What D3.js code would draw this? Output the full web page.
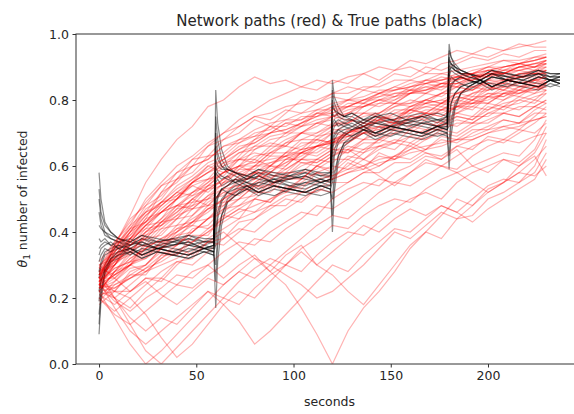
<!DOCTYPE html>
<html>
<head>
<meta charset="utf-8">
<script src="https://cdn.jsdelivr.net/npm/d3@7"></script>
<style>
  body { margin: 0; background: #fff; }
  svg text { font-family: "DejaVu Sans", sans-serif; fill: #262626; }
</style>
</head>
<body>
<svg id="chart"></svg>
<script>
const redTimes = [0, 8, 16, 24, 32, 40, 48, 56, 64, 72, 80, 88, 96, 104, 112, 120, 128, 136, 144, 152, 160, 168, 176, 184, 192, 200, 208, 216, 224, 230];
const redPaths = [
  [.27,.36,.45,.55,.62,.68,.72,.78,.80,.84,.87,.85,.86,.84,.86,.85,.87,.88,.86,.89,.90,.88,.91,.92,.94,.93,.95,.96,.97,.98],
  [.24,.30,.38,.44,.52,.58,.60,.66,.70,.74,.77,.80,.82,.84,.83,.86,.85,.88,.90,.89,.92,.91,.93,.95,.94,.96,.95,.97,.96,.96],
  [.30,.34,.40,.47,.50,.56,.62,.63,.68,.70,.74,.72,.76,.80,.79,.82,.84,.83,.85,.88,.87,.90,.89,.91,.93,.92,.94,.93,.95,.95],
  [.22,.28,.33,.40,.44,.50,.55,.60,.58,.63,.68,.70,.73,.72,.76,.78,.80,.79,.82,.84,.83,.86,.88,.87,.89,.90,.92,.91,.93,.93],
  [.26,.31,.35,.38,.43,.47,.52,.55,.60,.62,.61,.65,.68,.70,.72,.75,.74,.78,.80,.79,.82,.84,.83,.86,.88,.87,.90,.91,.90,.92],
  [.20,.25,.30,.37,.42,.45,.50,.54,.58,.60,.65,.67,.66,.70,.73,.72,.76,.79,.78,.80,.83,.82,.85,.84,.87,.89,.88,.90,.91,.91],
  [.28,.35,.40,.43,.48,.52,.51,.55,.58,.62,.64,.63,.67,.70,.69,.72,.74,.73,.76,.79,.78,.80,.82,.85,.84,.86,.88,.87,.89,.90],
  [.24,.27,.32,.35,.40,.44,.48,.50,.53,.57,.60,.64,.66,.65,.69,.70,.73,.76,.75,.78,.80,.79,.82,.84,.83,.86,.85,.88,.89,.89],
  [.18,.22,.28,.30,.35,.40,.43,.47,.50,.54,.58,.56,.60,.64,.66,.70,.69,.72,.75,.74,.78,.80,.79,.82,.84,.83,.86,.87,.88,.88],
  [.30,.32,.36,.40,.42,.46,.50,.48,.52,.55,.58,.60,.59,.62,.65,.68,.70,.72,.71,.74,.77,.76,.79,.81,.80,.83,.85,.84,.86,.87],
  [.25,.29,.31,.35,.38,.40,.45,.49,.52,.51,.55,.58,.62,.64,.63,.66,.70,.72,.75,.74,.77,.79,.80,.79,.82,.84,.83,.85,.86,.86],
  [.22,.20,.24,.28,.32,.36,.40,.44,.47,.50,.54,.53,.57,.60,.62,.65,.64,.68,.70,.73,.72,.75,.78,.77,.80,.82,.81,.84,.85,.86],
  [.27,.30,.34,.33,.37,.40,.43,.46,.50,.53,.52,.56,.59,.62,.61,.64,.67,.70,.69,.72,.74,.76,.75,.78,.80,.79,.82,.83,.85,.85],
  [.23,.26,.30,.34,.36,.39,.42,.41,.45,.48,.50,.54,.57,.56,.60,.63,.66,.65,.68,.70,.72,.71,.74,.76,.78,.77,.80,.82,.83,.84],
  [.19,.24,.27,.30,.34,.33,.37,.40,.44,.47,.46,.50,.53,.56,.58,.57,.60,.64,.66,.68,.67,.70,.73,.75,.74,.77,.79,.80,.82,.83],
  [.29,.27,.30,.32,.35,.38,.37,.41,.44,.47,.50,.49,.53,.55,.58,.60,.59,.62,.65,.67,.66,.69,.72,.74,.73,.76,.78,.79,.81,.82],
  [.21,.18,.22,.26,.25,.30,.34,.37,.36,.40,.44,.47,.50,.49,.53,.56,.58,.60,.63,.62,.65,.68,.70,.69,.72,.74,.76,.75,.78,.80],
  [.26,.22,.20,.24,.28,.31,.30,.34,.38,.41,.40,.44,.47,.50,.53,.52,.55,.58,.60,.63,.62,.65,.68,.67,.70,.72,.74,.73,.77,.79],
  [.24,.19,.16,.20,.23,.27,.26,.30,.34,.37,.36,.40,.43,.46,.45,.50,.53,.55,.54,.58,.60,.63,.62,.66,.68,.70,.72,.71,.75,.78],
  [.20,.15,.12,.16,.20,.24,.23,.27,.30,.34,.38,.37,.41,.44,.48,.47,.50,.53,.56,.55,.58,.61,.60,.63,.66,.68,.67,.70,.73,.76],
  [.25,.17,.10,.06,.10,.14,.18,.22,.20,.25,.29,.32,.30,.35,.38,.42,.41,.45,.48,.50,.49,.53,.56,.58,.60,.62,.64,.63,.68,.74],
  [.28,.20,.12,.04,.00,.05,.10,.15,.20,.18,.23,.27,.30,.28,.33,.37,.40,.39,.43,.47,.50,.52,.50,.55,.58,.60,.62,.61,.65,.72],
  [.22,.14,.06,.00,.04,.09,.14,.19,.24,.28,.26,.30,.34,.38,.42,.45,.44,.48,.52,.55,.54,.57,.60,.59,.63,.66,.68,.67,.69,.70],
  [.26,.20,.14,.10,.14,.12,.17,.22,.18,.13,.06,.10,.15,.20,.25,.30,.28,.33,.37,.41,.40,.44,.48,.46,.50,.54,.56,.55,.60,.68],
  [.24,.20,.17,.22,.26,.24,.28,.30,.26,.30,.33,.28,.24,.17,.09,.00,.10,.17,.22,.28,.35,.40,.38,.44,.48,.53,.55,.58,.62,.66],
  [.30,.26,.22,.25,.21,.18,.22,.26,.24,.28,.32,.30,.27,.24,.20,.22,.26,.30,.35,.40,.38,.42,.46,.44,.45,.50,.52,.55,.58,.64],
  [.23,.27,.30,.28,.32,.35,.33,.37,.40,.36,.32,.28,.33,.36,.30,.34,.38,.42,.40,.44,.47,.45,.48,.46,.43,.47,.50,.53,.56,.62],
  [.27,.33,.38,.42,.46,.50,.54,.52,.56,.60,.58,.55,.52,.56,.60,.58,.62,.60,.57,.54,.58,.62,.60,.58,.55,.52,.55,.58,.57,.60],
  [.25,.30,.36,.40,.44,.48,.47,.51,.55,.58,.56,.60,.63,.61,.60,.63,.65,.62,.60,.63,.66,.64,.62,.65,.60,.58,.62,.60,.63,.57],
  [.28,.32,.37,.42,.46,.50,.55,.58,.62,.65,.68,.72,.70,.73,.76,.75,.78,.80,.82,.81,.84,.86,.85,.87,.86,.88,.87,.89,.88,.88],
  [.22,.28,.34,.39,.43,.46,.50,.53,.56,.59,.62,.60,.64,.66,.68,.67,.70,.72,.74,.73,.76,.78,.77,.80,.79,.81,.83,.82,.84,.85],
  [.31,.37,.43,.49,.54,.58,.62,.66,.68,.72,.75,.74,.77,.76,.79,.81,.80,.83,.82,.84,.86,.85,.87,.86,.88,.90,.89,.91,.90,.92],
  [.20,.16,.20,.15,.08,.02,.06,.12,.18,.22,.20,.25,.30,.34,.30,.27,.22,.18,.24,.30,.36,.40,.45,.50,.48,.52,.55,.60,.64,.70],
  [.26,.33,.38,.41,.46,.48,.52,.54,.58,.60,.63,.64,.67,.68,.70,.72,.73,.75,.76,.78,.79,.80,.82,.82,.84,.85,.86,.88,.88,.89],
  [.24,.27,.30,.33,.35,.39,.40,.44,.46,.50,.51,.55,.56,.58,.59,.62,.62,.65,.66,.67,.69,.71,.71,.73,.73,.76,.76,.78,.78,.80],
  [.27,.31,.33,.38,.39,.44,.45,.50,.51,.56,.56,.60,.60,.64,.64,.67,.67,.70,.70,.73,.73,.76,.75,.78,.77,.81,.80,.83,.82,.85],
  [.25,.34,.40,.45,.49,.53,.56,.60,.62,.66,.67,.70,.71,.73,.75,.76,.78,.78,.80,.81,.83,.83,.85,.85,.87,.88,.88,.90,.91,.92],
  [.23,.24,.26,.28,.30,.32,.35,.38,.41,.44,.46,.48,.51,.52,.55,.56,.58,.59,.61,.62,.64,.65,.66,.68,.68,.70,.71,.72,.74,.75],
  [.28,.30,.36,.38,.43,.44,.49,.50,.55,.56,.60,.60,.64,.64,.68,.67,.71,.70,.74,.73,.77,.76,.79,.78,.81,.81,.84,.83,.86,.85],
  [.22,.28,.30,.35,.36,.41,.42,.47,.48,.53,.53,.57,.57,.61,.61,.64,.64,.67,.67,.70,.70,.73,.72,.75,.74,.78,.77,.80,.79,.82],
  [.29,.37,.42,.46,.49,.51,.54,.56,.58,.60,.61,.62,.63,.65,.66,.67,.69,.70,.72,.72,.75,.75,.77,.78,.79,.80,.82,.82,.84,.84],
  [.22,.23,.26,.29,.33,.36,.40,.44,.48,.52,.55,.58,.61,.63,.66,.67,.70,.71,.74,.75,.77,.78,.79,.80,.82,.83,.84,.85,.86,.87],
  [.26,.32,.37,.42,.43,.48,.49,.54,.55,.60,.60,.64,.64,.68,.68,.71,.71,.74,.74,.77,.77,.80,.79,.82,.81,.85,.84,.87,.86,.89],
  [.25,.29,.31,.36,.37,.42,.43,.48,.49,.54,.54,.58,.58,.62,.62,.65,.65,.68,.68,.71,.71,.74,.73,.76,.75,.79,.78,.81,.80,.83],
  [.27,.35,.41,.43,.49,.50,.55,.56,.61,.62,.66,.66,.70,.70,.73,.74,.76,.76,.79,.79,.82,.82,.84,.84,.86,.87,.88,.89,.90,.91],
  [.24,.22,.27,.27,.33,.33,.39,.39,.45,.44,.50,.49,.54,.53,.58,.56,.61,.59,.64,.62,.67,.65,.69,.68,.71,.71,.74,.73,.76,.76],
  [.25,.32,.34,.39,.41,.45,.47,.51,.53,.57,.58,.61,.62,.65,.66,.68,.69,.71,.72,.74,.75,.77,.77,.79,.79,.82,.82,.84,.84,.86],
  [.26,.26,.31,.32,.37,.38,.43,.44,.49,.50,.54,.54,.58,.58,.62,.61,.65,.64,.68,.67,.71,.70,.73,.72,.75,.75,.78,.77,.80,.79],
  [.24,.34,.38,.44,.46,.50,.52,.56,.57,.62,.62,.66,.66,.70,.70,.73,.73,.76,.76,.79,.79,.82,.81,.84,.83,.86,.86,.88,.88,.90],
  [.28,.36,.44,.48,.54,.56,.60,.62,.66,.67,.70,.71,.74,.74,.77,.77,.80,.80,.82,.83,.84,.85,.86,.87,.88,.89,.90,.91,.92,.93],
  [.21,.22,.22,.26,.26,.31,.32,.37,.38,.43,.44,.48,.48,.52,.52,.55,.55,.58,.58,.61,.61,.64,.63,.66,.65,.69,.68,.71,.70,.73],
  [.24,.30,.35,.36,.41,.42,.47,.48,.53,.54,.58,.58,.62,.62,.66,.65,.69,.68,.72,.71,.75,.74,.77,.76,.79,.79,.82,.81,.84,.83],
  [.27,.33,.36,.41,.42,.47,.48,.53,.54,.59,.59,.63,.63,.67,.67,.70,.70,.73,.73,.76,.76,.79,.78,.81,.80,.84,.83,.86,.85,.88],
  [.23,.25,.29,.30,.35,.36,.41,.42,.47,.48,.52,.52,.56,.56,.60,.59,.63,.62,.66,.65,.69,.68,.71,.70,.73,.73,.76,.75,.78,.77],
  [.26,.36,.39,.43,.46,.48,.51,.53,.56,.58,.60,.61,.63,.64,.66,.67,.68,.70,.71,.73,.74,.76,.76,.78,.78,.81,.81,.83,.83,.85],
  [.25,.28,.32,.35,.38,.41,.44,.47,.50,.53,.56,.59,.61,.64,.66,.68,.70,.72,.74,.76,.78,.79,.80,.82,.83,.85,.85,.87,.87,.89],
  [.26,.35,.41,.46,.48,.52,.55,.58,.60,.64,.65,.68,.69,.72,.73,.75,.76,.78,.79,.81,.82,.83,.84,.85,.86,.88,.88,.90,.90,.91],
  [.24,.23,.26,.29,.31,.34,.37,.40,.43,.46,.48,.50,.52,.54,.56,.57,.59,.60,.62,.63,.65,.66,.67,.68,.69,.71,.72,.73,.74,.75],
  [.27,.35,.42,.50,.55,.60,.63,.67,.70,.72,.75,.76,.78,.79,.80,.82,.82,.84,.84,.86,.86,.88,.88,.89,.90,.91,.92,.92,.93,.94],
  [.25,.32,.40,.46,.52,.55,.60,.62,.66,.68,.71,.73,.74,.76,.77,.79,.80,.81,.83,.83,.85,.86,.86,.88,.88,.90,.90,.91,.92,.93],
  [.29,.36,.41,.48,.51,.56,.58,.63,.64,.68,.69,.72,.72,.75,.75,.78,.78,.80,.80,.82,.82,.85,.84,.87,.86,.89,.88,.90,.89,.91],
  [.23,.30,.37,.42,.47,.51,.55,.58,.61,.64,.66,.69,.70,.72,.74,.75,.77,.78,.80,.80,.82,.83,.85,.85,.87,.87,.89,.89,.90,.90],
  [.26,.34,.39,.45,.49,.54,.57,.61,.63,.67,.69,.70,.73,.74,.76,.76,.79,.79,.81,.82,.83,.84,.85,.86,.87,.88,.89,.90,.91,.92],
  [.24,.31,.38,.43,.48,.52,.56,.59,.62,.65,.67,.70,.71,.73,.75,.77,.78,.80,.81,.83,.84,.85,.86,.87,.88,.89,.90,.91,.92,.93]
];

// True paths: restart every 60 s, then settle
const blackTimes = [
  0, 1, 3, 6, 10, 16, 22, 30, 38, 46, 54, 59,
  60, 61, 63, 66, 70, 76, 82, 90, 98, 106, 114, 119,
  120, 121, 123, 126, 130, 136, 142, 150, 158, 166, 174, 179,
  180, 181, 183, 186, 190, 196, 202, 210, 218, 226, 232, 237
];
const blackPaths = [
  [.58,.50,.43,.40,.38,.36,.38,.36,.37,.38,.36,.37, .83,.73,.65,.60,.58,.56,.58,.56,.57,.58,.56,.57, .86,.81,.78,.75,.75,.73,.75,.73,.74,.75,.73,.75, .97,.93,.90,.88,.88,.86,.88,.86,.87,.88,.86,.87],
  [.09,.19,.27,.31,.33,.35,.33,.35,.34,.33,.35,.34, .17,.31,.42,.49,.51,.54,.52,.54,.53,.52,.54,.53, .40,.52,.61,.66,.68,.71,.69,.71,.70,.69,.71,.70, .59,.69,.77,.82,.84,.86,.84,.86,.85,.84,.86,.85],
  [.50,.44,.40,.38,.37,.35,.37,.35,.36,.37,.35,.36, .70,.64,.60,.58,.57,.55,.57,.55,.56,.57,.55,.56, .80,.77,.75,.74,.74,.72,.74,.72,.73,.74,.72,.73, .93,.91,.89,.88,.88,.86,.88,.86,.87,.88,.86,.87],
  [.15,.22,.28,.31,.32,.34,.32,.34,.33,.32,.34,.33, .30,.39,.45,.49,.51,.53,.51,.53,.52,.51,.53,.52, .50,.58,.63,.67,.68,.70,.68,.70,.69,.68,.70,.69, .68,.74,.79,.82,.83,.85,.83,.85,.84,.83,.85,.84],
  [.42,.41,.40,.39,.38,.37,.39,.37,.38,.39,.37,.38, .62,.60,.59,.59,.58,.57,.59,.57,.58,.59,.57,.58, .76,.75,.76,.75,.76,.74,.76,.74,.75,.76,.74,.75, .90,.91,.90,.89,.88,.87,.89,.87,.88,.89,.87,.88],
  [.22,.27,.30,.33,.34,.35,.33,.35,.34,.33,.35,.34, .40,.46,.50,.52,.54,.55,.53,.55,.54,.53,.55,.54, .60,.65,.68,.70,.71,.72,.70,.72,.71,.70,.72,.71, .75,.79,.82,.84,.85,.86,.84,.86,.85,.84,.86,.85],
  [.35,.36,.37,.36,.35,.37,.36,.35,.37,.36,.35,.36, .55,.56,.54,.55,.56,.54,.55,.56,.54,.55,.56,.55, .70,.72,.73,.72,.71,.73,.72,.71,.73,.72,.71,.72, .87,.89,.88,.87,.86,.85,.87,.86,.85,.87,.86,.86],
  [.28,.31,.34,.35,.36,.34,.36,.35,.34,.36,.35,.35, .48,.51,.53,.54,.55,.53,.55,.54,.53,.55,.54,.54, .66,.69,.71,.72,.73,.71,.73,.72,.71,.73,.72,.72, .82,.85,.86,.87,.86,.85,.87,.86,.85,.87,.86,.86],
  [.46,.42,.39,.38,.37,.36,.38,.37,.36,.38,.37,.37, .75,.68,.62,.59,.58,.56,.58,.57,.56,.58,.57,.57, .83,.79,.76,.75,.74,.73,.75,.74,.73,.75,.74,.74, .95,.93,.91,.89,.88,.87,.89,.88,.87,.89,.88,.88],
  [.12,.21,.28,.32,.34,.35,.33,.35,.34,.33,.35,.34, .25,.36,.45,.50,.52,.54,.52,.54,.53,.52,.54,.53, .45,.55,.63,.67,.69,.71,.69,.71,.70,.69,.71,.70, .63,.72,.78,.82,.84,.86,.84,.86,.85,.84,.86,.85],
  [.38,.37,.38,.36,.37,.38,.36,.37,.38,.36,.37,.37, .58,.57,.56,.57,.55,.56,.57,.55,.56,.57,.55,.56, .73,.74,.72,.73,.74,.72,.73,.74,.72,.73,.74,.73, .89,.90,.89,.88,.87,.86,.88,.87,.86,.88,.87,.87],
  [.31,.33,.35,.34,.36,.35,.34,.36,.35,.34,.36,.35, .45,.50,.53,.54,.56,.55,.54,.56,.55,.54,.56,.55, .64,.68,.70,.71,.72,.71,.70,.72,.71,.70,.72,.71, .80,.84,.86,.87,.86,.85,.87,.86,.85,.87,.86,.86],
  [.26,.30,.33,.34,.35,.33,.35,.34,.33,.35,.34,.34, .36,.44,.49,.52,.53,.54,.52,.54,.53,.52,.54,.53, .55,.63,.67,.69,.71,.72,.70,.72,.71,.70,.72,.71, .72,.79,.82,.84,.85,.86,.84,.86,.85,.84,.86,.85],
  [.53,.46,.42,.40,.38,.37,.39,.38,.37,.39,.38,.38, .66,.62,.60,.59,.58,.57,.59,.58,.57,.59,.58,.58, .78,.77,.76,.75,.76,.74,.75,.76,.74,.75,.76,.75, .92,.91,.90,.89,.88,.87,.89,.88,.87,.89,.88,.88],
  [.19,.25,.29,.32,.33,.34,.32,.34,.33,.32,.34,.33, .50,.51,.53,.52,.51,.53,.52,.51,.53,.52,.51,.52, .68,.70,.71,.70,.69,.71,.70,.69,.71,.70,.69,.70, .85,.87,.86,.85,.84,.86,.85,.84,.86,.85,.84,.85],
  [.33,.35,.36,.37,.35,.36,.37,.35,.36,.37,.35,.36, .60,.58,.57,.56,.55,.57,.56,.55,.57,.56,.55,.56, .72,.73,.74,.73,.72,.74,.73,.72,.74,.73,.72,.73, .88,.90,.89,.88,.87,.86,.88,.87,.86,.88,.87,.87]
];

const xTicks = [0, 50, 100, 150, 200];
const yTicks = [0, 0.2, 0.4, 0.6, 0.8, 1.0];

class PathsChart {
  constructor(_config) {
    this.config = {
      parentElement: _config.parentElement,
      containerWidth: _config.containerWidth || 574,
      containerHeight: _config.containerHeight || 414,
      // right spine falls just outside the picture
      margin: _config.margin || { top: 34, right: -9, bottom: 50, left: 76 }
    };
    this.initVis();
  }

  initVis() {
    let vis = this;

    vis.width = vis.config.containerWidth - vis.config.margin.left - vis.config.margin.right;
    vis.height = vis.config.containerHeight - vis.config.margin.top - vis.config.margin.bottom;

    // matplotlib-style 5% padding around 0..237
    vis.xScale = d3.scaleLinear().domain([-11.85, 248.85]).range([0, vis.width]);
    vis.yScale = d3.scaleLinear().domain([0, 1]).range([vis.height, 0]);

    vis.xAxis = d3.axisBottom(vis.xScale).tickValues(xTicks).tickSize(3.5).tickPadding(3.5).tickSizeOuter(0);
    vis.yAxis = d3.axisLeft(vis.yScale).tickValues(yTicks).tickSize(3.5).tickPadding(3.5)
      .tickFormat(d3.format(".1f")).tickSizeOuter(0);

    vis.svg = d3.select(vis.config.parentElement)
      .attr("width", vis.config.containerWidth)
      .attr("height", vis.config.containerHeight);

    vis.chart = vis.svg.append("g")
      .attr("transform", `translate(${vis.config.margin.left},${vis.config.margin.top})`);

    vis.svg.append("defs").append("clipPath").attr("id", "plot-clip")
      .append("rect").attr("width", vis.width).attr("height", vis.height);

    vis.pathsG = vis.chart.append("g").attr("clip-path", "url(#plot-clip)");

    vis.line = d3.line()
      .x(d => vis.xScale(d[0]))
      .y(d => vis.yScale(d[1]));
  }

  renderVis() {
    let vis = this;

    // interleave red and black like the original loop did
    const series = [];
    redPaths.forEach((p, i) => {
      series.push({ color: "#ff0000", opacity: 0.3, pts: p.map((v, j) => [redTimes[j], v]) });
      const b = blackPaths[Math.floor(i / 4)];
      if (i % 4 === 3 && b) {
        series.push({ color: "#000000", opacity: 0.45, pts: b.map((v, j) => [blackTimes[j], v]) });
      }
    });

    vis.pathsG.selectAll("path")
      .data(series)
      .join("path")
      .attr("d", d => vis.line(d.pts))
      .attr("fill", "none")
      .attr("stroke", d => d.color)
      .attr("stroke-opacity", d => d.opacity)
      .attr("stroke-width", 1.2);

    // spines
    vis.chart.append("rect")
      .attr("width", vis.width).attr("height", vis.height)
      .attr("fill", "none").attr("stroke", "#333").attr("stroke-width", 1);

    const xG = vis.chart.append("g").attr("transform", `translate(0,${vis.height})`).call(vis.xAxis);
    const yG = vis.chart.append("g").call(vis.yAxis);
    [xG, yG].forEach(g => {
      g.select(".domain").remove();
      g.selectAll(".tick line").attr("stroke", "#333");
      g.selectAll(".tick text").attr("font-size", 12.5).attr("font-family", "DejaVu Sans").attr("fill", "#262626");
    });

    vis.svg.append("text")
      .attr("x", vis.config.margin.left + vis.width / 2)
      .attr("y", 26)
      .attr("text-anchor", "middle")
      .attr("font-size", 15)
      .text("Network paths (red) & True paths (black)");

    vis.svg.append("text")
      .attr("x", vis.config.margin.left + vis.width / 2)
      .attr("y", 406)
      .attr("text-anchor", "middle")
      .attr("font-size", 12.5)
      .text("seconds");

    const yl = vis.svg.append("text")
      .attr("transform", `translate(27,${vis.config.margin.top + vis.height / 2}) rotate(-90)`)
      .attr("text-anchor", "middle")
      .attr("font-size", 12.5);
    yl.append("tspan").attr("font-style", "italic").text("θ");
    yl.append("tspan").attr("font-size", 9).attr("dy", 3).text("1");
    yl.append("tspan").attr("dy", -3).text(" number of infected");
  }
}

const chart = new PathsChart({ parentElement: "#chart" });
chart.renderVis();
</script>
</body>
</html>
